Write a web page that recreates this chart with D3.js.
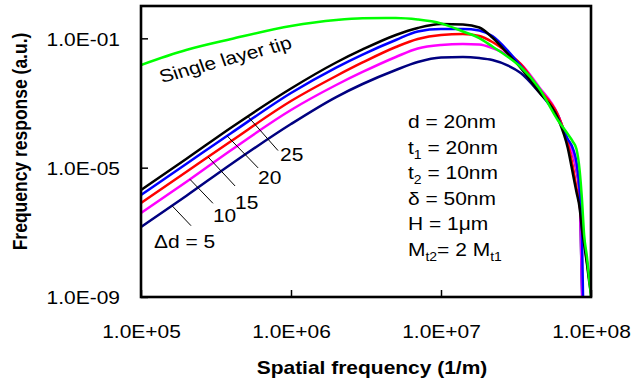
<!DOCTYPE html>
<html>
<head>
<meta charset="utf-8">
<script src="https://cdn.jsdelivr.net/npm/d3@7"></script>
<style>
  html, body { margin: 0; padding: 0; background: #fff; }
  svg { display: block; }
  text { font-family: "Liberation Sans", Arial, Helvetica, sans-serif; fill: #000; }
</style>
</head>
<body>
<svg id="chart" width="631" height="385"></svg>
<script>
// ---------- data ----------
const freq = [1e5, 2e5, 4e5, 1e6, 2e6, 3e6, 5e6, 7e6, 1e7, 1.4e7, 1.8e7, 2.2e7, 2.8e7, 3.4e7,
              4.5e7, 6e7, 7e7, 7.6e7, 8e7, 8.4e7, 8.7e7, 9e7, 9.4e7, 9.8e7, 1e8];

const dd25 = [2.04e-6, 1.85e-5, 1.75e-4, 2.81e-3, 1.79e-2, 4.52e-2, 0.127, 0.209, 0.277, 0.268, 0.216, 0.106, 3.28e-2, 1.21e-2,
              2.19e-3, 3.43e-4, 4.05e-5, 5.93e-6, 1.77e-6, 5.65e-7, 1.27e-7, 4.35e-8, 1.05e-8, 2.34e-9, 1.3e-9];
const dd20 = [1.43e-6, 1.30e-5, 1.18e-4, 2.04e-3, 1.25e-2, 3.16e-2, 8.88e-2, 0.163, 0.194, 0.194, 0.175, 0.118, 4.06e-2, 1.39e-2,
              2.35e-3, 3.43e-4, 7.7e-5, 3.77e-5, 1.50e-5, 2.04e-6, 1.02e-7, 1e-11, null, null, null];
const dd15 = [8.07e-7, 7.33e-6, 6.67e-5, 1.15e-3, 6.84e-3, 1.79e-2, 5.39e-2, 9.53e-2, 0.127, 0.136, 0.118, 7.7e-2, 3.52e-2, 1.61e-2,
              2.71e-3, 4.25e-4, 5.78e-5, 9.75e-6, 2.34e-6, 7.0e-7, 1.68e-7, 5.0e-8, 1.21e-8, 2.9e-9, 1.65e-9];
const dd10 = [3.96e-7, 3.60e-6, 3.52e-5, 6.07e-4, 3.60e-3, 9.1e-3, 2.65e-2, 4.85e-2, 6.22e-2, 6.68e-2, 6.44e-2, 5.02e-2, 3.05e-2, 1.61e-2,
              3.13e-3, 4.5e-4, 6.5e-5, 2.6e-5, 9.0e-6, 1.6e-6, 2.3e-9, 1e-11, null, null, null];
const dd5  = [1.46e-7, 1.33e-6, 1.30e-5, 2.24e-4, 1.53e-3, 3.87e-3, 1.05e-2, 1.85e-2, 2.55e-2, 2.65e-2, 2.46e-2, 2.14e-2, 1.44e-2, 8.47e-3,
              2.19e-3, 4.4e-4, 6.3e-5, 2.5e-5, 8.5e-6, 1.4e-6, 1.9e-9, 1e-11, null, null, null];
const single = [1.50e-2, 4.35e-2, 9.53e-2, 0.241, 0.369, 0.417, 0.425, 0.382, 0.29, 0.163, 0.102, 5.59e-2, 2.65e-2, 1.3e-2,
              2.91e-3, 2.98e-4, 1.10e-4, 6.2e-5, 3.77e-5, 8.3e-6, 1.1e-6, 8.3e-8, 1.7e-8, 2.5e-9, 1.0e-9];

const seriesNames  = ["Δd = 5", "10", "15", "20", "25", "Single layer tip"];
const seriesColors = ["#000080", "#ff00ff", "#ff0000", "#0000ff", "#000000", "#00ff00"];
const seriesValues = [dd5, dd10, dd15, dd20, dd25, single];

// leader-line anchors (frequency on the curve the label points at)
const labelFreq = [1.61e5, 2.12e5, 2.8e5, 3.75e5, 5.17e5];

const xTicks = [1e5, 1e6, 1e7, 1e8];
const xTickLabels = ["1.0E+05", "1.0E+06", "1.0E+07", "1.0E+08"];
const yTicks = [1e-9, 1e-5, 1e-1];
const yTickLabels = ["1.0E-09", "1.0E-05", "1.0E-01"];

const paramLines = [
  [["d = 20nm"]],
  [["t"], ["1", "sub"], [" = 20nm"]],
  [["t"], ["2", "sub"], [" = 10nm"]],
  [["δ = 50nm"]],
  [["H = 1μm"]],
  [["M"], ["t2", "sub"], ["= 2 M"], ["t1", "sub"]]
];

// ---------- layout ----------
const SX = 1.165;           // horizontal stretch of the reference's text
const FS = 18;
const svg = d3.select("#chart");
const x = d3.scaleLog().domain([1e5, 1e8]).range([141, 591]);
const y = d3.scaleLog().domain([1e-9, 1]).range([297, 6]);

svg.append("defs").append("clipPath").attr("id", "plotclip")
  .append("rect").attr("x", x(1e5)).attr("y", y(1)).attr("width", x(1e8) - x(1e5)).attr("height", y(1e-9) - y(1));

// axes
const xAxis = d3.axisBottom(x).tickValues(xTicks).tickSizeInner(-7).tickSizeOuter(0)
  .tickFormat((d, i) => xTickLabels[i]);
const gx = svg.append("g").attr("transform", `translate(0,${y(1e-9)})`).call(xAxis);
gx.select(".domain").remove();
gx.selectAll(".tick line").attr("stroke", "#000").attr("stroke-width", 1.5);
gx.selectAll(".tick text").attr("font-size", FS).attr("font-family", null).attr("fill", "#000")
  .attr("y", 0).attr("dy", 0).attr("transform", `translate(0,41) scale(${SX},1)`);

const yAxis = d3.axisLeft(y).tickValues(yTicks).tickSizeInner(-7).tickSizeOuter(0)
  .tickFormat((d, i) => yTickLabels[i]);
const gy = svg.append("g").attr("transform", `translate(${x(1e5)},0)`).call(yAxis);
gy.select(".domain").remove();
gy.selectAll(".tick line").attr("stroke", "#000").attr("stroke-width", 1.5);
gy.selectAll(".tick text").attr("font-size", FS).attr("font-family", null).attr("fill", "#000")
  .attr("x", 0).attr("dy", 0).attr("text-anchor", "end")
  .attr("transform", `translate(-21,6.7) scale(${SX},1)`);

// lines
const line = d3.line()
  .defined(d => d[1] != null)
  .x(d => x(d[0])).y(d => y(d[1]))
  .curve(d3.curveMonotoneX);

const plot = svg.append("g").attr("clip-path", "url(#plotclip)");
seriesValues.forEach((vals, i) => {
  const pts = freq.map((f, k) => [f, vals[k]]);
  plot.append("path").datum(pts)
    .attr("fill", "none").attr("stroke", seriesColors[i])
    .attr("stroke-width", 2.5).attr("stroke-linejoin", "round")
    .attr("d", line);
});

// frame
svg.append("rect").attr("x", x(1e5)).attr("y", y(1))
  .attr("width", x(1e8) - x(1e5)).attr("height", y(1e-9) - y(1))
  .attr("fill", "none").attr("stroke", "#000").attr("stroke-width", 2.6);

// value on a series at frequency f (log-log interpolation)
function valueAt(vals, f) {
  for (let k = 0; k < freq.length - 1; k++) {
    if (f >= freq[k] && f <= freq[k + 1]) {
      const t = (Math.log(f) - Math.log(freq[k])) / (Math.log(freq[k + 1]) - Math.log(freq[k]));
      return Math.exp(Math.log(vals[k]) + t * (Math.log(vals[k + 1]) - Math.log(vals[k])));
    }
  }
  return vals[0];
}

// Δd labels with leader lines
const leaderOff = [[19, 20], [23, 24], [27, 29], [31, 32], [30, 34]];
const textOff   = [[-18, 42], [23, 43], [27, 52], [31, 48], [32, 44]];
labelFreq.forEach((f, i) => {
  const ax = x(f), ay = y(valueAt(seriesValues[i], f));
  svg.append("line").attr("x1", ax).attr("y1", ay)
    .attr("x2", ax + leaderOff[i][0]).attr("y2", ay + leaderOff[i][1])
    .attr("stroke", "#000").attr("stroke-width", 1);
  svg.append("text").attr("font-size", FS)
    .attr("transform", `translate(${ax + textOff[i][0]},${ay + textOff[i][1]}) scale(${SX},1)`)
    .text(seriesNames[i]);
});

// single layer tip label
svg.append("text").attr("font-size", FS)
  .attr("transform", `translate(162,83) scale(${SX},1) rotate(-17.4)`)
  .text(seriesNames[5]);

// parameter block
paramLines.forEach((parts, li) => {
  const t = svg.append("text").attr("font-size", FS)
    .attr("transform", `translate(408,${128 + li * 25.5}) scale(${SX},1)`);
  let shifted = false;
  parts.forEach(p => {
    const ts = t.append("tspan").text(p[0]);
    if (p[1] === "sub") {
      ts.attr("font-size", 12).attr("dy", shifted ? 0 : 5);
      shifted = true;
    } else {
      ts.attr("dy", shifted ? -5 : 0);
      shifted = false;
    }
  });
});

// axis titles
svg.append("text").attr("font-size", FS).attr("font-weight", "bold")
  .attr("text-anchor", "middle")
  .attr("transform", `translate(372,374) scale(${SX},1)`)
  .text("Spatial frequency (1/m)");
svg.append("text").attr("font-size", 17.5).attr("font-weight", "bold")
  .attr("text-anchor", "middle")
  .attr("transform", `translate(27,141.5) rotate(-90) scale(1,${SX})`)
  .text("Frequency response (a.u.)");
</script>
</body>
</html>
